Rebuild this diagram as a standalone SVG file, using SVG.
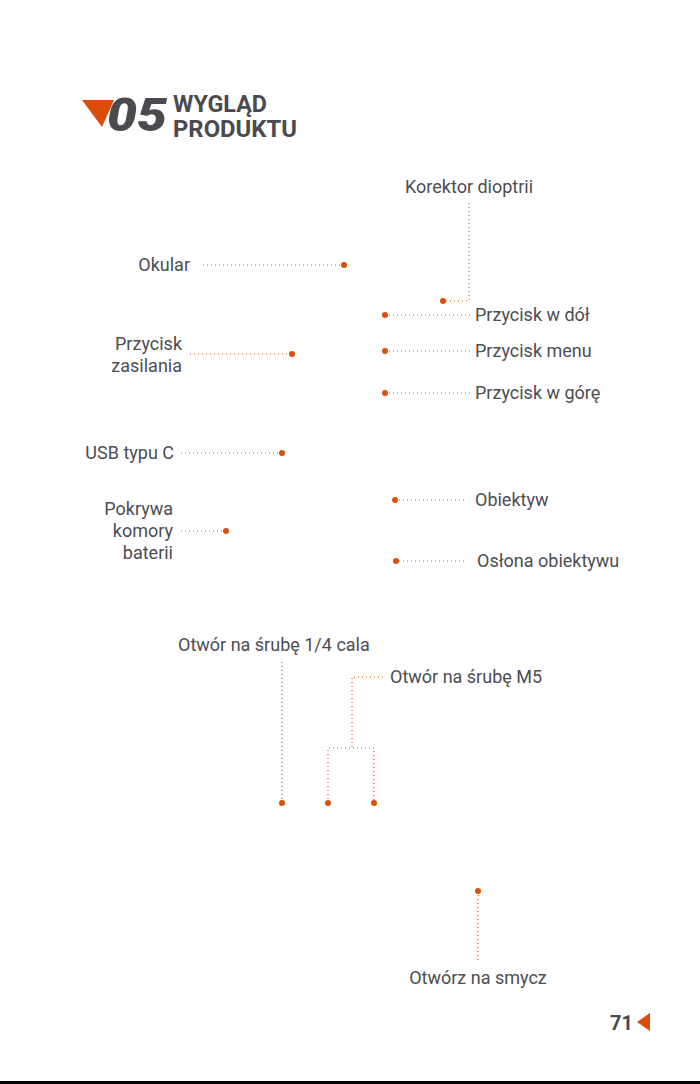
<svg xmlns="http://www.w3.org/2000/svg" width="700" height="1084" viewBox="0 0 700 1084">
<style>
.lbl{font-family:Roboto,"Liberation Sans",sans-serif;font-size:18px;fill:#4d4d52}
.r{text-anchor:end}
.m{text-anchor:middle}
.ld{fill:none;stroke:#e0601e;stroke-width:1.2;stroke-dasharray:1 3}
.dot{fill:#d9500c}
.hd{font-family:Roboto,"Liberation Sans",sans-serif;font-weight:700;font-size:23px;fill:#4a4a4f}
</style>
<rect width="700" height="1084" fill="#fff"/>
<g id="header">
<polygon points="82,100 114,100 102,127" fill="#dd4b0b"/>
<text x="107" y="131" font-family="Roboto,'Liberation Sans',sans-serif" font-weight="900" font-style="italic" font-size="46" fill="#4a4a4f" textLength="60" lengthAdjust="spacingAndGlyphs">05</text>
<text class="hd" x="173" y="112" textLength="94" lengthAdjust="spacingAndGlyphs">WYGLĄD</text>
<text class="hd" x="173" y="137" textLength="124" lengthAdjust="spacingAndGlyphs">PRODUKTU</text>
</g>
<g id="connectors">
<polyline class="ld" points="469,203 469,301 443,301"/>
<line class="ld" x1="203" y1="265" x2="344" y2="265"/>
<line class="ld" x1="190" y1="354" x2="292" y2="354"/>
<line class="ld" x1="385" y1="315" x2="470" y2="315"/>
<line class="ld" x1="385" y1="351" x2="470" y2="351"/>
<line class="ld" x1="385" y1="393" x2="470" y2="393"/>
<line class="ld" x1="181" y1="453" x2="282" y2="453"/>
<line class="ld" x1="181" y1="531" x2="226" y2="531"/>
<line class="ld" x1="395" y1="500" x2="467" y2="500"/>
<line class="ld" x1="395" y1="561" x2="467" y2="561"/>
<line class="ld" x1="282" y1="662" x2="282" y2="803"/>
<polyline class="ld" points="383,677 352,677 352,748"/>
<polyline class="ld" points="328,803 328,748 374,748 374,803"/>
<line class="ld" x1="478" y1="891" x2="478" y2="963"/>
</g>
<g id="dots">
<circle class="dot" cx="443" cy="301" r="3"/>
<circle class="dot" cx="344" cy="265" r="3"/>
<circle class="dot" cx="292" cy="354" r="3"/>
<circle class="dot" cx="385" cy="315" r="3"/>
<circle class="dot" cx="385" cy="351" r="3"/>
<circle class="dot" cx="385" cy="393" r="3"/>
<circle class="dot" cx="282" cy="453" r="3"/>
<circle class="dot" cx="226" cy="531" r="3"/>
<circle class="dot" cx="395" cy="500" r="3"/>
<circle class="dot" cx="396" cy="561" r="3"/>
<circle class="dot" cx="282" cy="803" r="3"/>
<circle class="dot" cx="328" cy="803" r="3"/>
<circle class="dot" cx="374" cy="803" r="3"/>
<circle class="dot" cx="478" cy="891" r="3"/>
</g>
<g id="n-korektor"><text class="lbl" x="405" y="193">Korektor dioptrii</text></g>
<g id="n-okular"><text class="lbl r" x="190" y="271">Okular</text></g>
<g id="n-zasilania"><text class="lbl r" x="182" y="350">Przycisk</text><text class="lbl r" x="182" y="372">zasilania</text></g>
<g id="n-dol"><text class="lbl" x="475" y="321">Przycisk w dół</text></g>
<g id="n-menu"><text class="lbl" x="475" y="357">Przycisk menu</text></g>
<g id="n-gore"><text class="lbl" x="475" y="399">Przycisk w górę</text></g>
<g id="n-usb"><text class="lbl r" x="174" y="459">USB typu C</text></g>
<g id="n-pokrywa"><text class="lbl r" x="173" y="515">Pokrywa</text><text class="lbl r" x="173" y="537">komory</text><text class="lbl r" x="173" y="559">baterii</text></g>
<g id="n-obiektyw"><text class="lbl" x="475" y="506">Obiektyw</text></g>
<g id="n-oslona"><text class="lbl" x="477" y="567">Osłona obiektywu</text></g>
<g id="n-cala"><text class="lbl" x="178" y="651">Otwór na śrubę 1/4 cala</text></g>
<g id="n-m5"><text class="lbl" x="390" y="683">Otwór na śrubę M5</text></g>
<g id="n-smycz"><text class="lbl m" x="478" y="984">Otwórz na smycz</text></g>
<g id="footer">
<text x="633" y="1030" text-anchor="end" font-family="Roboto,'Liberation Sans',sans-serif" font-weight="700" font-size="20" fill="#4a4a4f">71</text>
<polygon points="637,1022 650,1013 650,1031" fill="#dd4b0b"/>
<rect x="0" y="1081" width="700" height="3" fill="#000"/>
</g>
</svg>
